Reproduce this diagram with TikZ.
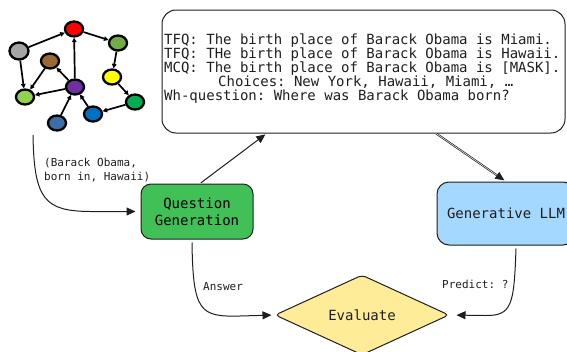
\documentclass[tikz,border=0pt]{standalone}
\usepackage{fontspec}
\setmonofont{DejaVu Sans Mono}
\usetikzlibrary{shapes.geometric,arrows.meta,calc}
\definecolor{qgreen}{HTML}{40C057}
\definecolor{lblue}{HTML}{A5D8FF}
\definecolor{lyellow}{HTML}{FFEC99}
\definecolor{nred}{HTML}{FF0000}
\definecolor{ngray}{HTML}{A5A5A5}
\definecolor{nlgreen}{HTML}{70AD47}
\definecolor{nbrown}{HTML}{9A6735}
\definecolor{nyellow}{HTML}{FFFF00}
\definecolor{npurple}{HTML}{7030A0}
\definecolor{nlime}{HTML}{92D050}
\definecolor{ngreen}{HTML}{00B050}
\definecolor{nblue}{HTML}{0070C0}
\definecolor{ndblue}{HTML}{3A6EA5}
\definecolor{ink}{HTML}{1E1E1E}
\tikzset{
  gnode/.style={ellipse,draw=black,line width=2.3pt,minimum width=18pt,minimum height=15pt,inner sep=0pt},
  gedge/.style={line width=1.7pt,-{Triangle[length=4.5pt,width=4.5pt]}},
  flow/.style={draw=ink,line width=1pt,-{Triangle[length=9pt,width=8pt]}},
  fbox/.style={draw=ink,line width=1pt,rounded corners=10pt,font=\ttfamily\fontsize{14}{17}\selectfont,align=center,inner sep=0pt},
  small/.style={font=\ttfamily\fontsize{11}{14}\selectfont,align=left,anchor=west,inner sep=0pt,text=ink}
}
\begin{document}
\begin{tikzpicture}[x=1pt,y=-1pt]
\useasboundingbox (0,0) rectangle (567,351);
% knowledge graph
\node[gnode,fill=nred] (r) at (74,29) {};
\node[gnode,fill=ngray,minimum width=19pt,minimum height=17pt] (g) at (19,51) {};
\node[gnode,fill=nlgreen] (lg) at (118,43) {};
\node[gnode,fill=nbrown] (br) at (50,61) {};
\node[gnode,fill=nyellow] (y) at (112,77) {};
\node[gnode,fill=npurple] (p) at (75,87) {};
\node[gnode,fill=nlime] (li) at (25,97) {};
\node[gnode,fill=ngreen] (gr) at (135,102) {};
\node[gnode,fill=nblue] (b) at (93,114) {};
\node[gnode,fill=ndblue] (db) at (57,123) {};
\draw[gedge] (g) -- (r);
\draw[gedge] (r) -- (lg);
\draw[gedge] (p) -- (r);
\draw[gedge] (lg) -- (y);
\draw[gedge] (y) -- (gr);
\draw[gedge] (gr) -- (b);
\draw[gedge] (b) -- (p);
\draw[gedge] (db) -- (p);
\draw[gedge] (p) -- (br);
\draw[gedge] (br) -- (li);
\draw[gedge] (g) -- (li);
\draw[gedge] (p) -- (li);
% question box
\node[draw=ink,line width=1pt,rounded corners=14pt,minimum width=403pt,minimum height=123pt,inner sep=0pt] (tbox) at (363.5,71.5) {};
\node[font=\ttfamily\fontsize{14}{14}\selectfont,align=left,anchor=west,inner sep=0pt,text=ink] (ttext) at (164,68.5) {TFQ: The birth place of Barack Obama is Miami.\\TFQ: THe birth place of Barack Obama is Hawaii.\\MCQ: The birth place of Barack Obama is [MASK].\\\hspace*{54pt}Choices: New York, Hawaii, Miami, …\\Wh-question: Where was Barack Obama born?};
% boxes
\node[fbox,fill=qgreen,minimum width=112pt,minimum height=55pt] (qg) at (197,211.5) {Question\\Generation};
\node[fbox,fill=lblue,rounded corners=12pt,minimum width=138pt,minimum height=63pt,text=ink] (llm) at (506,213.5) {Generative LLM};
\node[diamond,draw=ink,line width=1pt,fill=lyellow,rounded corners=4pt,minimum width=174pt,minimum height=80pt,inner sep=0pt,font=\ttfamily\fontsize{14}{17}\selectfont,text=ink] (ev) at (362,315) {Evaluate};
% labels
\coordinate (kgstart) at (33,135);
\node[small] (l1) at (44,170) {(Barack Obama,\\born in, Hawaii)};
\node[small] (l2) at (203,287) {Answer};
\node[small] (l3) at (442,284) {Predict: ?};
% connectors
\draw[flow,shorten >=5pt] (kgstart) .. controls (34,200) and (45,211) .. (90,211.5) -- (qg.west);
\draw[flow,shorten <=1pt,shorten >=1.5pt] (qg.north) ++(3,0) -- ($(tbox.south west)!0.26!(tbox.south east)$);
\draw[flow,shorten >=2pt,double=white,double distance=0.5pt,line width=0.7pt] ($(tbox.south west)!0.68!(tbox.south east)$) -- (llm.north);
\draw[flow,shorten >=3pt] ([xshift=-5pt,yshift=-3pt]qg.south) .. controls (193,312) and (200,317) .. (240,316) -- (ev.west);
\draw[flow,shorten >=7pt] ([xshift=10pt,yshift=-3pt]llm.south) .. controls (514,305) and (512,316) .. (485,315.5) -- (ev.east);
\end{tikzpicture}
\end{document}
